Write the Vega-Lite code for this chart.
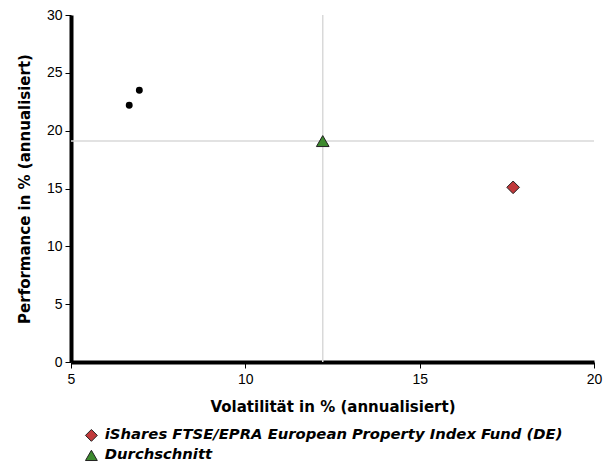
{
  "$schema": "https://vega.github.io/schema/vega-lite/v6.json",
  "autosize": "none",
  "width": 523,
  "height": 347,
  "padding": {"left": 71, "top": 15, "right": 20, "bottom": 102},
  "config": {
    "view": {"stroke": null},
    "font": "Liberation Sans",
    "axis": {"grid": false, "labelFlush": false, "domainColor": "#000", "domainWidth": 4, "tickColor": "#000", "tickSize": 6, "labelFont": "Liberation Sans", "labelFontSize": 14, "labelColor": "#000", "titleFont": "DejaVu Sans", "titleFontSize": 15, "titleFontWeight": "bold", "titleColor": "#000"}
  },
  "datasets": {
    "funds": [
      {"name": "iShares FTSE/EPRA European Property Index Fund (DE)", "vol": 17.68, "perf": 15.1},
      {"name": "Durchschnitt", "vol": 12.22, "perf": 19.1}
    ],
    "others": [
      {"vol": 6.67, "perf": 22.2},
      {"vol": 6.96, "perf": 23.5}
    ]
  },
  "layer": [
    {
      "data": {"name": "funds"},
      "transform": [{"filter": "datum.name === 'Durchschnitt'"}],
      "mark": {"type": "rule", "color": "#d9d9d9", "strokeWidth": 1.5},
      "encoding": {"x": {"field": "vol", "type": "quantitative", "scale": {"domain": [5, 20], "nice": false, "zero": false}}}
    },
    {
      "data": {"name": "funds"},
      "transform": [{"filter": "datum.name === 'Durchschnitt'"}],
      "mark": {"type": "rule", "color": "#d9d9d9", "strokeWidth": 1.5},
      "encoding": {"y": {"field": "perf", "type": "quantitative", "scale": {"domain": [0, 30], "nice": false}}}
    },
    {
      "data": {"name": "others"},
      "mark": {"type": "point", "filled": true, "color": "#000", "size": 48, "opacity": 1},
      "encoding": {
        "x": {"field": "vol", "type": "quantitative", "scale": {"domain": [5, 20], "nice": false, "zero": false}},
        "y": {"field": "perf", "type": "quantitative", "scale": {"domain": [0, 30], "nice": false}}
      }
    },
    {
      "data": {"name": "funds"},
      "mark": {"type": "point", "filled": true, "size": 160, "opacity": 1, "stroke": "#222", "strokeWidth": 1},
      "encoding": {
        "x": {"field": "vol", "type": "quantitative", "scale": {"domain": [5, 20], "nice": false, "zero": false}, "axis": {"values": [5, 10, 15, 20], "title": "Volatilität in % (annualisiert)", "titlePadding": 13, "labelPadding": 4}},
        "y": {"field": "perf", "type": "quantitative", "scale": {"domain": [0, 30], "nice": false}, "axis": {"values": [0, 5, 10, 15, 20, 25, 30], "title": "Performance in % (annualisiert)", "titlePadding": 14, "labelPadding": 3}},
        "color": {"field": "name", "type": "nominal", "scale": {"domain": ["iShares FTSE/EPRA European Property Index Fund (DE)", "Durchschnitt"], "range": ["#c0393b", "#3d8a2e"]}, "legend": {"orient": "none", "legendX": 13, "legendY": 413, "title": null, "labelFontSize": 14.8, "labelFontStyle": "italic", "labelFontWeight": "bold", "labelFont": "DejaVu Sans", "labelColor": "#000", "labelLimit": 600, "labelOffset": 6, "rowPadding": 3, "symbolSize": 140, "symbolStrokeColor": "#222", "symbolStrokeWidth": 1}},
        "shape": {"field": "name", "type": "nominal", "scale": {"domain": ["iShares FTSE/EPRA European Property Index Fund (DE)", "Durchschnitt"], "range": ["diamond", "triangle-up"]}, "legend": null}
      }
    }
  ]
}
